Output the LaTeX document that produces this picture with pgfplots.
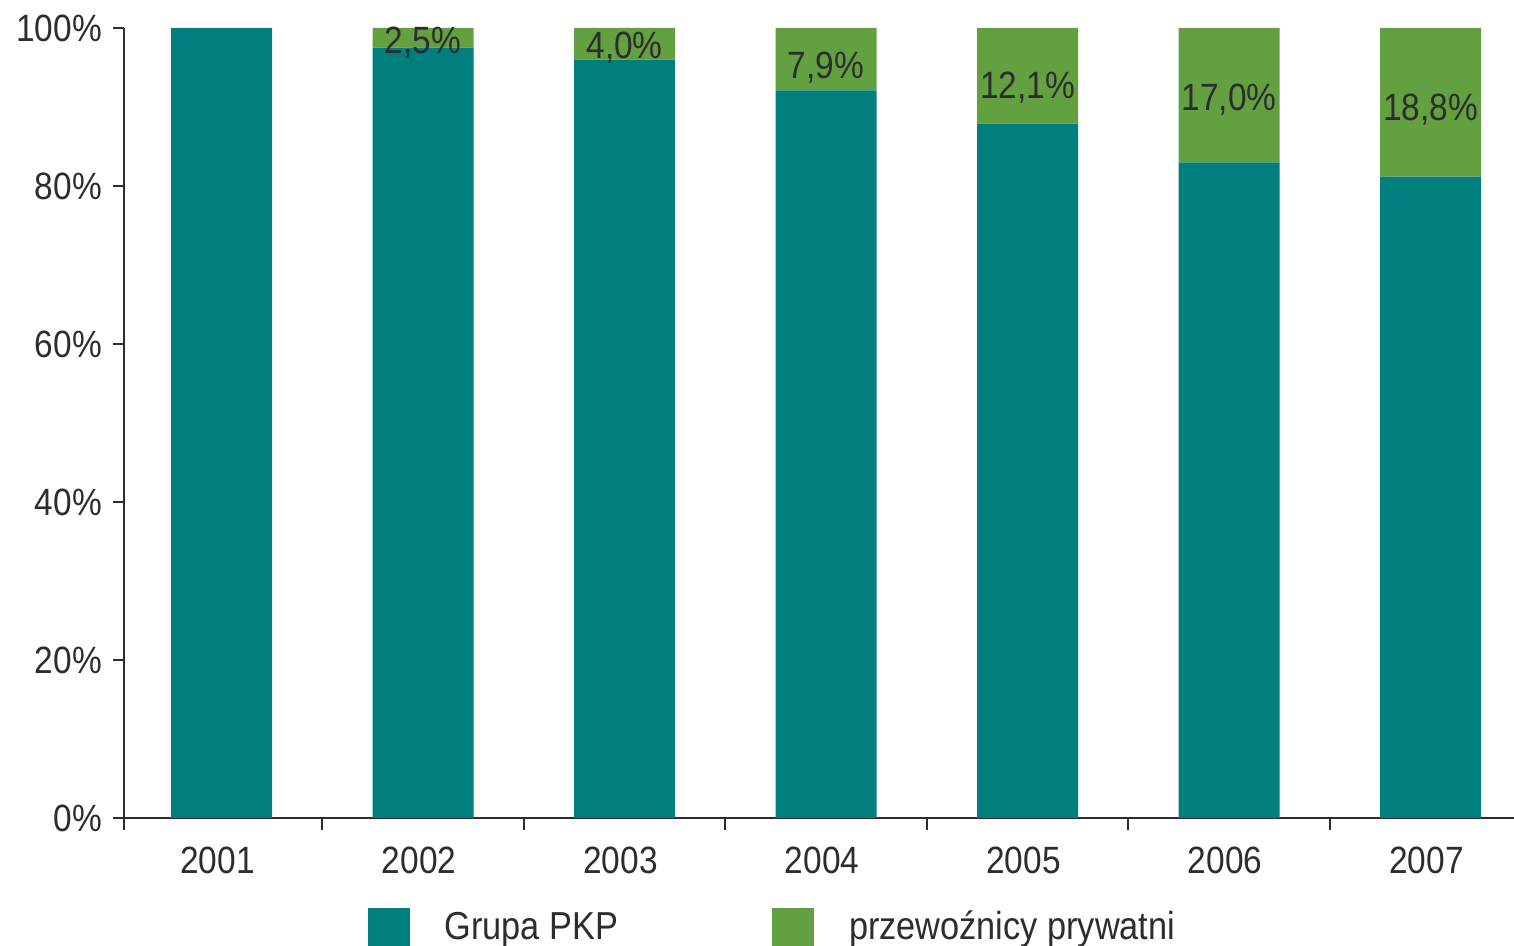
\documentclass[border=0pt]{standalone}
\usepackage{pgfplots}
\pgfplotsset{compat=1.18}
\usepackage{fontspec}
\setmainfont{Liberation Sans}[FakeStretch=0.88]
\definecolor{pkp}{RGB}{0,127,126}
\definecolor{grn}{RGB}{99,160,64}
\definecolor{txt}{RGB}{45,45,48}
\begin{document}
\begin{tikzpicture}
\begin{axis}[
  scale only axis,
  width=695pt, height=395pt,
  ybar stacked,
  bar width=50.5pt,
  xmin=-0.484, xmax=6.414,
  ymin=0, ymax=100,
  axis lines*=left,
  axis line style={draw=txt, line width=1pt},
  xtick={0,...,6},
  xticklabels={2001,2002,2003,2004,2005,2006,2007},
  minor xtick={-0.484,0.5,1.5,2.5,3.5,4.5,5.5},
  major x tick style={draw=none},
  minor x tick style={draw=txt, line width=1pt},
  minor tick length=6pt,
  ytick={0,20,...,100},
  yticklabel={\pgfmathprintnumber{\tick}\%},
  ytick style={draw=txt, line width=1pt},
  major tick length=5.5pt,
  tick align=outside,
  ticklabel style={font=\fontsize{19}{22}\selectfont, text=txt},
  /pgf/number format/assume math mode=true,
  xticklabel style={yshift=-5.5pt, xshift=-2pt},
  yticklabel style={xshift=-2pt},
  legend columns=2,
  legend style={at={(rel axis cs:0.1749,-0.138)}, anchor=west, draw=none, fill=none,
    font=\fontsize{19.5}{22}\selectfont, text=txt, inner sep=0pt,
    nodes={inner xsep=9pt, inner ysep=0pt},
    /tikz/every odd column/.append style={column sep=8.5pt},
    /tikz/every even column/.append style={column sep=68pt}},
  legend image code/.code={\fill[#1] (0pt,-9.5pt) rectangle (21pt,9.5pt);},
  legend cell align=left,
]
\addplot[fill=pkp, draw=none] coordinates {(0,100) (1,97.5) (2,96.0) (3,92.1) (4,87.9) (5,83.0) (6,81.2)};
\addplot[fill=grn, draw=none] coordinates {(0,0) (1,2.5) (2,4.0) (3,7.9) (4,12.1) (5,17.0) (6,18.8)};
\legend{Grupa PKP,przewoźnicy prywatni}
\coordinate (l1) at (axis cs:1,98.1);
\coordinate (l2) at (axis cs:2,97.5);
\coordinate (l3) at (axis cs:3,95.0);
\coordinate (l4) at (axis cs:4,92.4);
\coordinate (l5) at (axis cs:5,90.9);
\coordinate (l6) at (axis cs:6,89.6);
\end{axis}
\begin{scope}[every node/.style={font=\fontsize{19}{22}\selectfont, text=txt, inner sep=0pt}]
\node at (l1) {2,5\%};
\node at (l2) {4,0\%};
\node at (l3) {7,9\%};
\node at (l4) {12,1\%};
\node at (l5) {17,0\%};
\node at (l6) {18,8\%};
\end{scope}
\pgfresetboundingbox
\path[use as bounding box] (-62pt,-64pt) rectangle (695pt,409pt);
\end{tikzpicture}
\end{document}
